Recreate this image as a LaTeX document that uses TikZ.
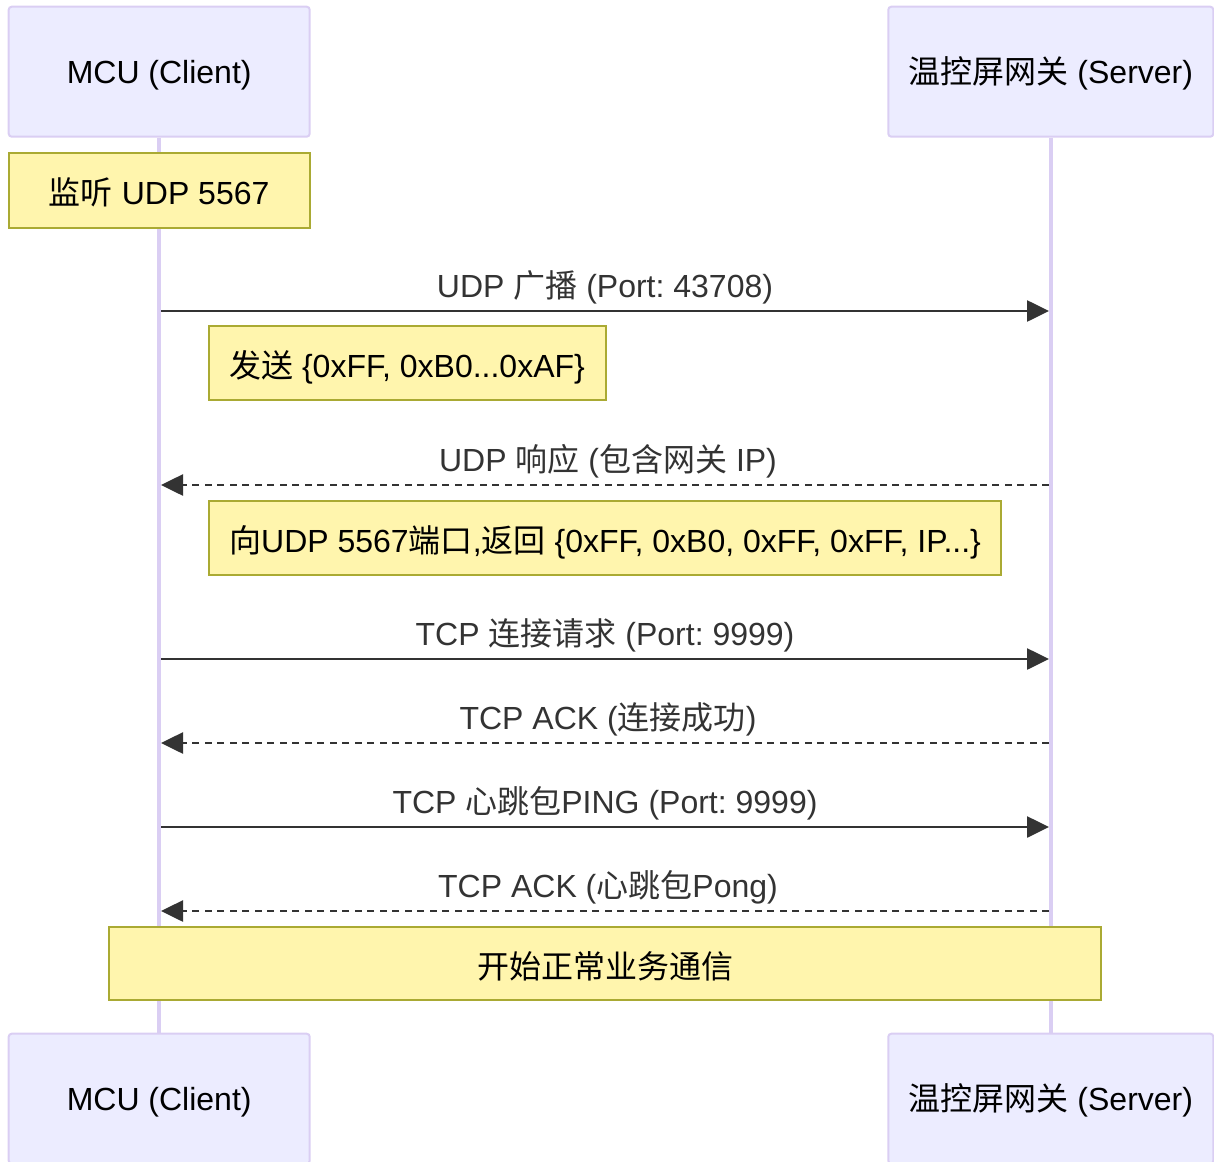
\documentclass[tikz,border=0pt]{standalone}
\usepackage{fontspec}
\setmainfont{Liberation Sans}
\newfontfamily\cjk{Noto Sans CJK SC}
\usetikzlibrary{arrows.meta}
\definecolor{actorfill}{HTML}{ECECFF}
\definecolor{actorline}{HTML}{DACEF3}
\definecolor{notefill}{HTML}{FFF5AD}
\definecolor{notebd}{HTML}{AAAA33}
\definecolor{sig}{HTML}{333333}
\frenchspacing
\begin{document}
\begin{tikzpicture}[x=1pt,y=-1pt,
  txt/.style={font=\fontsize{32}{38}\selectfont},
  actor/.style={txt, draw=actorline, fill=actorfill, line width=2pt,
    rounded corners=3pt, inner sep=0pt, text height=24.5pt, text depth=0pt,
    minimum height=130pt},
  note/.style={txt, draw=notebd, fill=notefill, line width=2pt,
    inner sep=0pt, text height=29pt, text depth=0pt},
  lbl/.style={txt, anchor=base, inner sep=0pt, text=sig},
  msg/.style={draw=sig, line width=2.6pt, -{Triangle[length=22pt,width=21pt]}},
  reply/.style={msg, dash pattern=on 7pt off 5.5pt},
  life/.style={draw=actorline, line width=3.5pt}]
\useasboundingbox (0,0) rectangle (1214,1161);
\clip (0,0) rectangle (1214,1161);

% participants, top and bottom
\node[actor, minimum width=301pt] (mcuT) at (159.2,71.7) {MCU (Client)};
\node[actor, minimum width=325pt] (gwT) at (1050.8,71.7) {{\cjk 温控屏网关} (Server)};
\coordinate (mcuB) at (159.2,1032.7);
\coordinate (gwB) at (1050.8,1032.7);

% lifelines
\draw[life] (mcuT.south) -- (mcuB);
\draw[life] (gwT.south) -- (gwB);

\node[actor, minimum width=301pt, anchor=north] (mcuBot) at (mcuB) {MCU (Client)};
\node[actor, minimum width=325pt, anchor=north] (gwBot) at (gwB) {{\cjk 温控屏网关} (Server)};

% notes
\node[note, minimum width=301pt, minimum height=75pt] (n1) at (159.2,190.2) {{\cjk 监听} UDP 5567};
\node[note, minimum width=397pt, minimum height=74pt] (n2) at (407,363) {{\cjk 发送} \{0xFF, 0xB0...0xAF\}};
\node[note, minimum width=792pt, minimum height=74pt] (n3) at (605,538) {{\cjk 向}UDP 5567{\cjk 端口},{\cjk 返回} \{0xFF, 0xB0, 0xFF, 0xFF, IP...\}};
\node[note, minimum width=992pt, minimum height=73pt] (n4) at (605,963.5) {\cjk 开始正常业务通信};

% message end points on the lifelines
\coordinate (a1) at (161,311);  \coordinate (b1) at (1049,311);
\coordinate (a2) at (161,485);  \coordinate (b2) at (1049,485);
\coordinate (a3) at (161,659);  \coordinate (b3) at (1049,659);
\coordinate (a4) at (161,743);  \coordinate (b4) at (1049,743);
\coordinate (a5) at (161,827);  \coordinate (b5) at (1049,827);
\coordinate (a6) at (161,911);  \coordinate (b6) at (1049,911);

% messages
\draw[msg] (a1) -- (b1);
\node[lbl] (l1) at (605,297.5) {UDP {\cjk 广播} (Port: 43708)};
\draw[reply] (b2) -- (a2);
\node[lbl] (l2) at (608,471.5) {UDP {\cjk 响应} ({\cjk 包含网关} IP)};
\draw[msg] (a3) -- (b3);
\node[lbl] (l3) at (605,645.5) {TCP {\cjk 连接请求} (Port: 9999)};
\draw[reply] (b4) -- (a4);
\node[lbl] (l4) at (608,729.5) {TCP ACK ({\cjk 连接成功})};
\draw[msg] (a5) -- (b5);
\node[lbl] (l5) at (605,813.5) {TCP {\cjk 心跳包}PING (Port: 9999)};
\draw[reply] (b6) -- (a6);
\node[lbl] (l6) at (608,897.5) {TCP ACK ({\cjk 心跳包}Pong)};
\end{tikzpicture}
\end{document}
